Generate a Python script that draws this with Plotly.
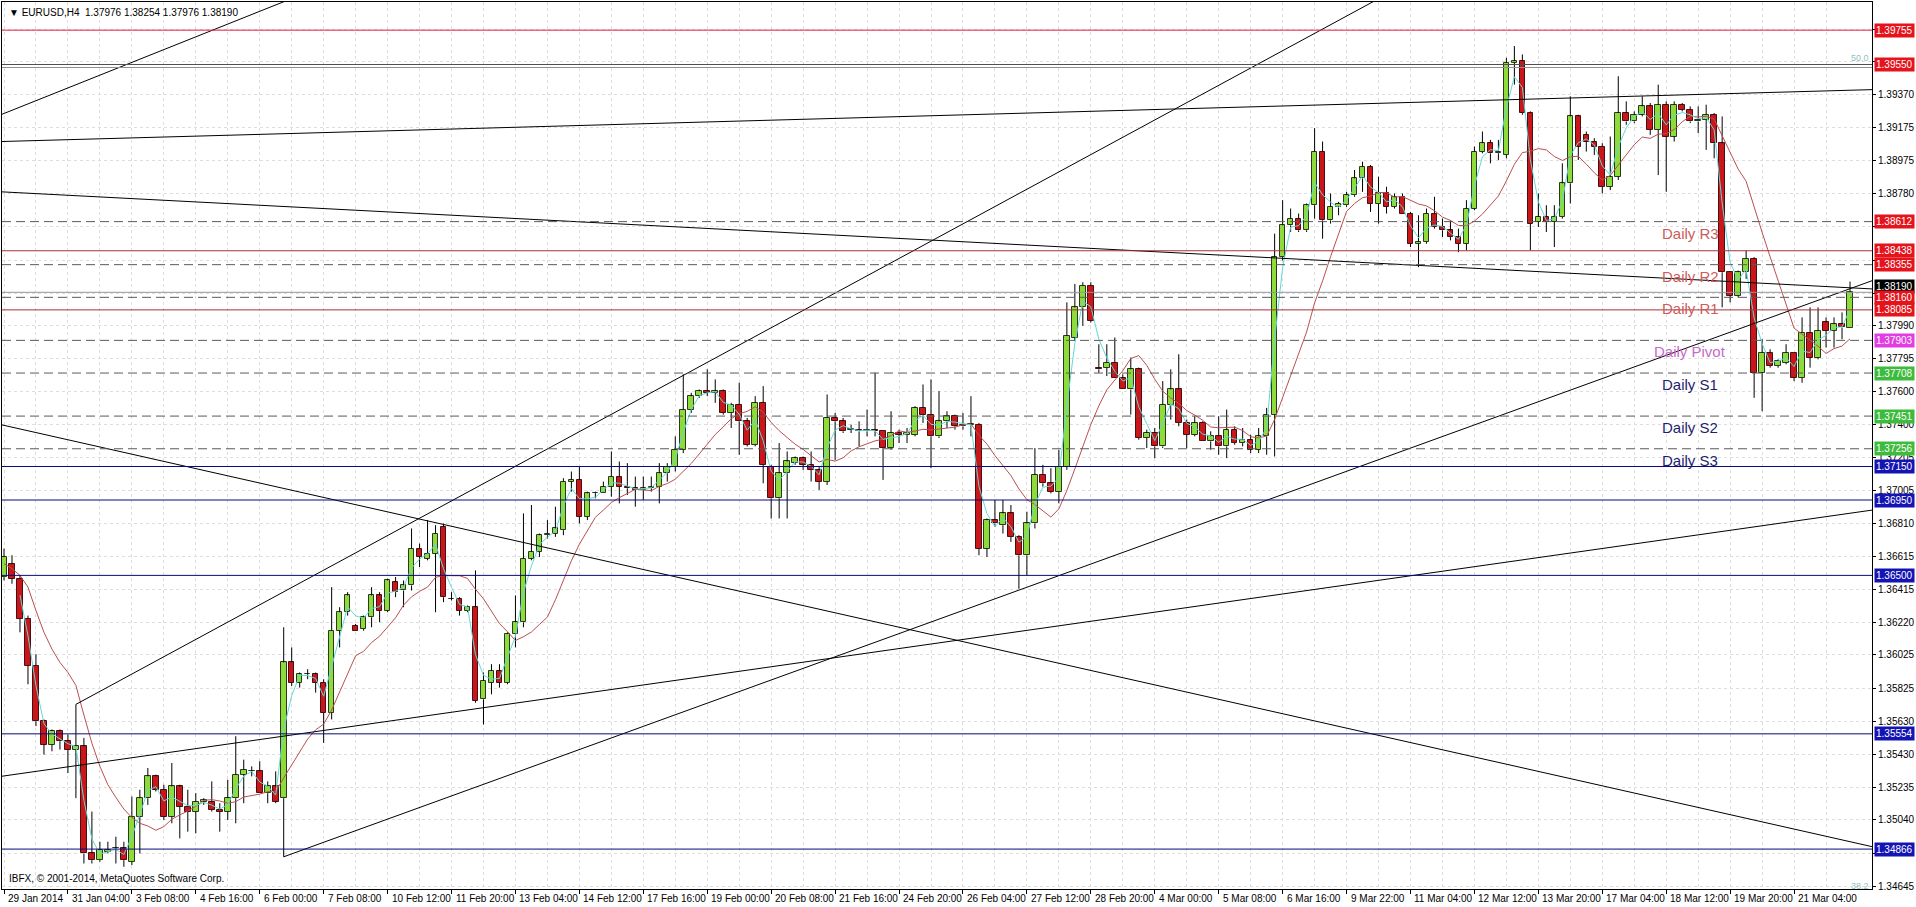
import plotly.graph_objects as go
import pandas as pd

# ---------------- data (EURUSD H4) ----------------
opens = [1.3649,1.3657,1.3648,1.3624,1.3596,1.3563,1.3549,1.3557,1.3551,1.3546,
         1.3548,1.3484,1.3480,1.3485,1.3487,1.3487,1.3479,1.3506,1.3517,1.3530,
         1.3522,1.3506,1.3524,1.3512,1.3509,1.3515,1.3515,1.3510,1.3509,1.3517,
         1.3531,1.3533,1.3533,1.3520,1.3524,1.3517,1.3598,1.3586,1.3591,1.3591,
         1.3586,1.3568,1.3617,1.3628,1.3620,1.3618,1.3625,1.3638,1.3629,1.3646,
         1.3641,1.3644,1.3666,1.3660,1.3663,1.3679,1.3636,1.3636,1.3629,1.3631,
         1.3576,1.3586,1.3593,1.3586,1.3615,1.3622,1.3660,1.3664,1.3674,1.3675,
         1.3677,1.3706,1.3707,1.3685,1.3699,1.3699,1.3703,1.3709,1.3703,1.3702,
         1.3701,1.3702,1.3703,1.3711,1.3715,1.3725,1.3749,1.3757,1.3760,1.3759,
         1.3760,1.3747,1.3752,1.3742,1.3728,1.3753,1.3715,1.3696,1.3711,1.3717,
         1.3720,1.3716,1.3713,1.3706,1.3744,1.3742,1.3737,1.3737,1.3736,1.3737,
         1.3736,1.3726,1.3735,1.3734,1.3734,1.3750,1.3746,1.3733,1.3742,1.3745,
         1.3739,1.3740,1.3740,1.3666,1.3683,1.3680,1.3687,1.3673,1.3662,1.3681,
         1.3710,1.3705,1.3700,1.3715,1.3792,1.3810,1.3823,1.3774,1.3774,1.3777,
         1.3768,1.3761,1.3773,1.3732,1.3735,1.3727,1.3752,1.3761,1.3741,1.3734,
         1.3741,1.3730,1.3733,1.3727,1.3737,1.3729,1.3731,1.3725,1.3733,1.3746,
         1.3840,1.3859,1.3863,1.3856,1.3871,1.3903,1.3862,1.3870,1.3871,1.3877,
         1.3887,1.3894,1.3872,1.3878,1.3870,1.3876,1.3866,1.3848,1.3849,1.3866,
         1.3858,1.3856,1.3852,1.3848,1.3869,1.3903,1.3908,1.3902,1.3901,1.3956,
         1.3957,1.3926,1.3861,1.3864,1.3861,1.3864,1.3884,1.3924,1.3913,1.3909,
         1.3906,1.3882,1.3888,1.3926,1.3921,1.3925,1.3930,1.3916,1.3931,1.3912,
         1.3931,1.3928,1.3921,1.3922,1.3925,1.3908,1.3831,1.3817,1.3831,1.3839,
         1.3771,1.3783,1.3775,1.3777,1.3783,1.3768,1.3795,1.3780,1.3801,1.3796,
         1.3800,1.37976]
highs = [1.3666,1.3662,1.3650,1.3626,1.3603,1.3564,1.3558,1.3558,1.3555,1.3573,
         1.3553,1.3509,1.3491,1.3491,1.3494,1.3491,1.3518,1.3522,1.3535,1.3531,
         1.3525,1.3538,1.3525,1.3522,1.3520,1.3517,1.3527,1.3514,1.3528,1.3554,
         1.3540,1.3536,1.3539,1.3527,1.3533,1.3619,1.3607,1.3592,1.3594,1.3592,
         1.3588,1.3643,1.3631,1.3640,1.3621,1.3626,1.3643,1.3640,1.3648,1.3649,
         1.3647,1.3678,1.3669,1.3683,1.3680,1.3681,1.3640,1.3637,1.3632,1.3653,
         1.3592,1.3597,1.3597,1.3616,1.3638,1.3687,1.3692,1.3675,1.3683,1.3691,
         1.3708,1.3712,1.3715,1.3700,1.3700,1.3706,1.3724,1.3718,1.3717,1.3709,
         1.3709,1.3709,1.3717,1.3717,1.3733,1.3770,1.3759,1.3761,1.3773,1.3767,
         1.3761,1.3753,1.3765,1.3744,1.3757,1.3763,1.3716,1.3729,1.3724,1.3721,
         1.3721,1.3724,1.3715,1.3758,1.3747,1.3744,1.3740,1.3742,1.3749,1.3771,
         1.3736,1.3748,1.3737,1.3738,1.3751,1.3764,1.3767,1.3760,1.3748,1.3746,
         1.3747,1.3757,1.3741,1.3684,1.3695,1.3695,1.3692,1.3674,1.3688,1.3726,
         1.3716,1.3714,1.3725,1.3813,1.3824,1.3825,1.3825,1.3788,1.3788,1.3792,
         1.3770,1.3780,1.3774,1.3737,1.3738,1.3766,1.3773,1.3782,1.3743,1.3745,
         1.3742,1.3736,1.3745,1.3749,1.3739,1.3738,1.3734,1.3738,1.3750,1.3854,
         1.3874,1.3869,1.3866,1.3872,1.3917,1.3909,1.3878,1.3873,1.3879,1.3892,
         1.3897,1.3895,1.3888,1.3882,1.3878,1.3878,1.3867,1.3865,1.3869,1.3876,
         1.3863,1.3862,1.3857,1.3874,1.3906,1.3915,1.3910,1.3910,1.3959,1.3966,
         1.3961,1.3927,1.3878,1.3871,1.3871,1.3896,1.3936,1.3925,1.3915,1.3911,
         1.3908,1.3912,1.3948,1.3933,1.3927,1.3936,1.3932,1.3943,1.3933,1.3933,
         1.3932,1.3930,1.3930,1.3931,1.3926,1.3924,1.3831,1.3832,1.3844,1.3840,
         1.3791,1.3785,1.3779,1.3788,1.3783,1.3804,1.3810,1.3810,1.3804,1.3804,
         1.3807,1.38254]
lows = [1.3647,1.3645,1.3616,1.3585,1.3560,1.3543,1.3545,1.3546,1.3532,1.3517,
        1.3478,1.3478,1.3479,1.3484,1.3478,1.3476,1.3477,1.3484,1.3513,1.3521,
        1.3504,1.3502,1.3493,1.3497,1.3496,1.3513,1.3509,1.3497,1.3504,1.3502,
        1.3514,1.3530,1.3520,1.3514,1.3514,1.3482,1.3584,1.3583,1.3588,1.3580,
        1.3550,1.3564,1.3607,1.3626,1.3617,1.3617,1.3619,1.3622,1.3628,1.3637,
        1.3631,1.3641,1.3655,1.3659,1.3628,1.3634,1.3635,1.3626,1.3628,1.3574,
        1.3561,1.3579,1.3583,1.3585,1.3607,1.3619,1.3659,1.3661,1.3672,1.3673,
        1.3674,1.3700,1.3681,1.3683,1.3696,1.3699,1.3697,1.3693,1.3698,1.3691,
        1.3695,1.3700,1.3693,1.3706,1.3712,1.3723,1.3747,1.3756,1.3757,1.3753,
        1.3746,1.3738,1.3722,1.3727,1.3727,1.3705,1.3684,1.3684,1.3684,1.3716,
        1.3713,1.3706,1.3701,1.3704,1.3719,1.3735,1.3735,1.3727,1.3733,1.3733,
        1.3707,1.3725,1.3729,1.3729,1.3733,1.3741,1.3714,1.3732,1.3738,1.3737,
        1.3737,1.3733,1.3662,1.3661,1.3679,1.3675,1.3670,1.3642,1.3650,1.3678,
        1.3703,1.3699,1.3693,1.3713,1.3790,1.3799,1.3801,1.3771,1.3769,1.3768,
        1.3761,1.3746,1.3731,1.3726,1.3720,1.3726,1.3743,1.3739,1.3726,1.3733,
        1.3730,1.3725,1.3722,1.3720,1.3728,1.3727,1.3723,1.3723,1.3722,1.3721,
        1.3838,1.3855,1.3855,1.3855,1.3863,1.3851,1.3860,1.3865,1.3870,1.3876,
        1.3879,1.3867,1.3860,1.3866,1.3869,1.3866,1.3846,1.3834,1.3848,1.3857,
        1.3852,1.3850,1.3843,1.3844,1.3868,1.3902,1.3896,1.3898,1.3899,1.3943,
        1.3925,1.3844,1.3858,1.3855,1.3846,1.3863,1.3872,1.3898,1.3903,1.3901,
        1.3878,1.3880,1.3886,1.3919,1.3920,1.3924,1.3913,1.3889,1.3879,1.3909,
        1.3927,1.3920,1.3914,1.3904,1.3899,1.3810,1.3813,1.3816,1.3827,1.3756,
        1.3748,1.3774,1.3774,1.3776,1.3766,1.3765,1.3774,1.3779,1.3786,1.3786,
        1.3791,1.37976]
closes = [1.3661,1.3648,1.3624,1.3596,1.3563,1.3549,1.3557,1.3551,1.3546,1.3548,
          1.3484,1.3480,1.3486,1.3486,1.3487,1.3480,1.3506,1.3517,1.3530,1.3522,
          1.3506,1.3524,1.3512,1.3509,1.3515,1.3516,1.3510,1.3509,1.3517,1.3531,
          1.3534,1.3533,1.3520,1.3524,1.3515,1.3598,1.3586,1.3591,1.3591,1.3586,
          1.3568,1.3617,1.3628,1.3638,1.3617,1.3625,1.3638,1.3629,1.3647,1.3640,
          1.3644,1.3666,1.3661,1.3663,1.3675,1.3637,1.3636,1.3629,1.3631,1.3575,
          1.3587,1.3593,1.3586,1.3615,1.3622,1.3660,1.3664,1.3674,1.3675,1.3678,
          1.3706,1.3707,1.3685,1.3699,1.3699,1.3703,1.3709,1.3703,1.3702,1.3701,
          1.3702,1.3703,1.3711,1.3715,1.3725,1.3749,1.3757,1.3760,1.3759,1.3760,
          1.3747,1.3752,1.3742,1.3728,1.3753,1.3716,1.3696,1.3711,1.3718,1.3720,
          1.3716,1.3713,1.3706,1.3744,1.3742,1.3736,1.3737,1.3736,1.3737,1.3736,
          1.3726,1.3735,1.3734,1.3735,1.3750,1.3746,1.3733,1.3742,1.3745,1.3739,
          1.3740,1.3740,1.3666,1.3683,1.3681,1.3687,1.3673,1.3662,1.3681,1.3710,
          1.3705,1.3700,1.3715,1.3793,1.3810,1.3823,1.3802,1.3773,1.3777,1.3768,
          1.3761,1.3773,1.3732,1.3735,1.3727,1.3752,1.3761,1.3741,1.3734,1.3741,
          1.3730,1.3733,1.3727,1.3737,1.3729,1.3731,1.3725,1.3733,1.3746,1.3840,
          1.3859,1.3863,1.3856,1.3871,1.3903,1.3862,1.3870,1.3872,1.3877,1.3887,
          1.3894,1.3872,1.3878,1.3870,1.3876,1.3866,1.3848,1.3849,1.3866,1.3858,
          1.3856,1.3852,1.3848,1.3869,1.3903,1.3908,1.3902,1.3903,1.3956,1.3957,
          1.3926,1.3860,1.3864,1.3861,1.3864,1.3884,1.3924,1.3906,1.3909,1.3906,
          1.3882,1.3888,1.3926,1.3921,1.3925,1.3930,1.3916,1.3931,1.3912,1.3931,
          1.3928,1.3921,1.3922,1.3925,1.3908,1.3831,1.3817,1.3831,1.3839,1.3771,
          1.3783,1.3775,1.3778,1.3783,1.3768,1.3795,1.3780,1.3796,1.3796,1.3800,
          1.3798,1.38190]

# slow MA values before enough history exists
ma_slow_head = [1.3657, 1.3654, 1.3650, 1.3643, 1.3629, 1.3616, 1.3606, 1.3598, 1.3592]
MA_SLOW_PERIOD = 10
MA_FAST_PERIOD = 3

time_labels = ["29 Jan 2014", "31 Jan 04:00", "3 Feb 08:00", "4 Feb 16:00", "6 Feb 00:00",
               "7 Feb 08:00", "10 Feb 12:00", "11 Feb 20:00", "13 Feb 04:00", "14 Feb 12:00",
               "17 Feb 16:00", "19 Feb 00:00", "20 Feb 08:00", "21 Feb 16:00", "24 Feb 20:00",
               "26 Feb 04:00", "27 Feb 12:00", "28 Feb 20:00", "4 Mar 00:00", "5 Mar 08:00",
               "6 Mar 16:00", "9 Mar 22:00", "11 Mar 04:00", "12 Mar 12:00", "13 Mar 20:00",
               "17 Mar 04:00", "18 Mar 12:00", "19 Mar 20:00", "21 Mar 04:00"]
time_label_bars = [8 * k for k in range(len(time_labels))]
grid_minor_bars = [8 * k + 4 for k in range(len(time_labels))]

price_ticks = [1.34645, 1.34840, 1.35040, 1.35235, 1.35430, 1.35630, 1.35825, 1.36025,
               1.36220, 1.36415, 1.36615, 1.36810, 1.37005, 1.37205, 1.37400, 1.37600,
               1.37795, 1.37990, 1.38185, 1.38380, 1.38585, 1.38780, 1.38975, 1.39175,
               1.39370, 1.39565, 1.39760]
# scale labels that sit under a coloured price tag
price_ticks_hidden = [1.34840, 1.38185, 1.38380, 1.38585, 1.39565, 1.39760]

# horizontal levels
red_levels = [1.39755, 1.38438, 1.38085]
fib_levels = [1.39550, 1.39532]
pivot_levels = [1.38612, 1.38355, 1.38160, 1.37903, 1.37708, 1.37451, 1.37256]
pivot_names = ["Daily R3", "Daily R2", "Daily R1", "Daily Pivot", "Daily S1", "Daily S2", "Daily S3"]
pivot_text_colors = ["#CD5C5C", "#CD5C5C", "#CD5C5C", "#C86AC8", "#1E1E6E", "#1E1E6E", "#1E1E6E"]
navy_levels = [1.37150, 1.36950, 1.36500, 1.35554, 1.34866]

# price tags on the right scale
tag_prices = [1.39755, 1.39550, 1.38612, 1.38438, 1.38355, 1.38190, 1.38160, 1.38085,
              1.37903, 1.37708, 1.37451, 1.37256, 1.37150, 1.36950, 1.36500, 1.35554, 1.34866]
tag_colors = ["#E5131B", "#E5131B", "#E5131B", "#E5131B", "#E5131B", "#000000", "#E5131B", "#E5131B",
              "#E23CE2", "#3DBB3D", "#3DBB3D", "#3DBB3D", "#1414B4", "#1414B4", "#1414B4", "#1414B4", "#1414B4"]
tag_nudge = [0, 0, 0, 0, 0, 6, 0, 0, 0, 0, 0, 0, 0, 0, 0, 0, 0]

# trend lines: (bar, price) -> (bar, price)
tl_bar0 = [-0.4, -0.4, -0.4, 9, 35, -0.4, -0.4]
tl_price0 = [1.3925, 1.3909, 1.3879, 1.3573, 1.3482, 1.3740, 1.3530]
tl_bar1 = [40, 233.8, 233.8, 175, 233.8, 233.8, 233.8]
tl_price1 = [1.4002, 1.3940, 1.3821, 1.4002, 1.3826, 1.3488, 1.3689]

# ---------------- figure ----------------
n = len(closes)
idx = list(range(n))
cl = pd.Series(closes)
ma_slow = cl.rolling(MA_SLOW_PERIOD).mean().tolist()
ma_slow[:len(ma_slow_head)] = ma_slow_head
w = pd.Series(range(1, MA_FAST_PERIOD + 1), dtype=float)
ma_fast = cl.rolling(MA_FAST_PERIOD).apply(lambda s: (s.values * w.values).sum() / w.sum(), raw=False).tolist()

body_base = [min(o, c) for o, c in zip(opens, closes)]
body_h = [max(abs(c - o), 0.000015) for o, c in zip(opens, closes)]
body_col = ["#8EDC3C" if c >= o else "#C8161A" for o, c in zip(opens, closes)]
line_col = ["#2A3A1A" if c >= o else "#4A1010" for o, c in zip(opens, closes)]

wx, wy = [], []
for i in idx:
    top = max(opens[i], closes[i])
    bot = min(opens[i], closes[i])
    wx += [i, i, None, i, i, None]
    wy += [highs[i], top, None, bot, lows[i], None]

fig = go.Figure()
fig.add_trace(go.Bar(x=idx, base=body_base, y=body_h, width=0.7,
                     marker=dict(color=body_col, line=dict(color=line_col, width=1)),
                     hoverinfo="skip", showlegend=False))
fig.add_trace(go.Scatter(x=wx, y=wy, mode="lines", line=dict(color="#000000", width=1),
                         hoverinfo="skip", showlegend=False))
fig.add_trace(go.Scatter(x=idx, y=ma_slow, mode="lines", line=dict(color="#B85050", width=1),
                         hoverinfo="skip", showlegend=False))
fig.add_trace(go.Scatter(x=idx, y=ma_fast, mode="lines", line=dict(color="#62D8D8", width=1),
                         hoverinfo="skip", showlegend=False))
for b0, p0, b1, p1 in zip(tl_bar0, tl_price0, tl_bar1, tl_price1):
    fig.add_trace(go.Scatter(x=[b0, b1], y=[p0, p1], mode="lines",
                             line=dict(color="#000000", width=1),
                             hoverinfo="skip", showlegend=False))

shapes = []
def hline(p, color, dash="solid", width=1):
    shapes.append(dict(type="line", xref="paper", x0=0, x1=1, yref="y", y0=p, y1=p,
                       line=dict(color=color, width=width, dash=dash), layer="above"))

hline(red_levels[0], "#DC1E46")
for p in red_levels[1:]:
    hline(p, "#A83038")
hline(fib_levels[0], "#505050")
hline(fib_levels[1], "#909090")
for p in pivot_levels:
    hline(p, "#5A5A5A", dash="9px,5px")
for p in navy_levels:
    hline(p, "#0A0A78")
hline(closes[-1], "#8C96A0")

annotations = []
for lbl, b in zip(time_labels, time_label_bars):
    annotations.append(dict(x=b, xref="x", y=0, yref="paper", text=lbl, showarrow=False,
                            xanchor="left", yanchor="top", xshift=2, yshift=-2,
                            font=dict(size=10, color="#000000", family="Liberation Sans, Arial")))
for p, c, nd in zip(tag_prices, tag_colors, tag_nudge):
    annotations.append(dict(x=1, xref="paper", y=p, yref="y", text=f"{p:.5f}", showarrow=False,
                            xanchor="left", yanchor="middle", xshift=2, yshift=nd, bgcolor=c, borderpad=1,
                            font=dict(size=10, color="#FFFFFF", family="Liberation Sans, Arial")))
for p, name, c in zip(pivot_levels, pivot_names, pivot_text_colors):
    annotations.append(dict(x=211, xref="x", y=p, yref="y", text=name, showarrow=False,
                            xanchor="center", yanchor="top", yshift=-1,
                            font=dict(size=15, color=c, family="Liberation Sans, Arial")))
annotations.append(dict(x=0, xref="paper", y=1, yref="paper", text="▼ EURUSD,H4  1.37976 1.38254 1.37976 1.38190",
                        showarrow=False, xanchor="left", yanchor="top", xshift=5, yshift=-3,
                        font=dict(size=10, color="#000000", family="Liberation Sans, DejaVu Sans")))
annotations.append(dict(x=0, xref="paper", y=0, yref="paper", text="IBFX, © 2001-2014, MetaQuotes Software Corp.",
                        showarrow=False, xanchor="left", yanchor="bottom", xshift=5, yshift=3,
                        font=dict(size=10, color="#000000", family="Liberation Sans, Arial")))
annotations.append(dict(x=1, xref="paper", y=fib_levels[0], yref="y", text="50.0", showarrow=False,
                        xanchor="right", yanchor="bottom", xshift=-1, yshift=0,
                        font=dict(size=9, color="#8FBFBF", family="Liberation Sans, Arial")))
annotations.append(dict(x=1, xref="paper", y=price_ticks[0], yref="y", text="38.2", showarrow=False,
                        xanchor="right", yanchor="middle", xshift=-1,
                        font=dict(size=9, color="#8FBFBF", family="Liberation Sans, Arial")))

fig.update_layout(
    width=1916, height=907,
    margin=dict(l=1, r=43, t=2, b=18),
    paper_bgcolor="#FFFFFF", plot_bgcolor="#FFFFFF",
    showlegend=False, bargap=0,
    shapes=shapes, annotations=annotations,
    xaxis=dict(range=[-0.25, 233.75], tickvals=time_label_bars, showticklabels=False,
               ticks="outside", ticklen=4, tickcolor="#000000",
               showgrid=True, gridcolor="#DEDEDE", griddash="3px,3px", gridwidth=1,
               minor=dict(tickvals=grid_minor_bars, showgrid=True, gridcolor="#DEDEDE",
                          griddash="3px,3px", ticks=""),
               showline=True, linecolor="#000000", linewidth=1, mirror=True, zeroline=False,
               fixedrange=True),
    yaxis=dict(range=[1.346277, 1.399231], side="right", tickvals=price_ticks,
               ticktext=["" if p in price_ticks_hidden else f"{p:.5f}" for p in price_ticks],
               ticks="outside", ticklen=3, tickcolor="#000000",
               tickfont=dict(size=10, color="#000000", family="Liberation Sans, Arial"),
               showgrid=True, gridcolor="#DEDEDE", griddash="3px,3px", gridwidth=1,
               showline=True, linecolor="#000000", linewidth=1, mirror=True, zeroline=False,
               fixedrange=True),
)

fig.write_html("out.html", config={"displayModeBar": False},
               post_script="document.body.style.margin='0';document.body.style.overflow='hidden';")
